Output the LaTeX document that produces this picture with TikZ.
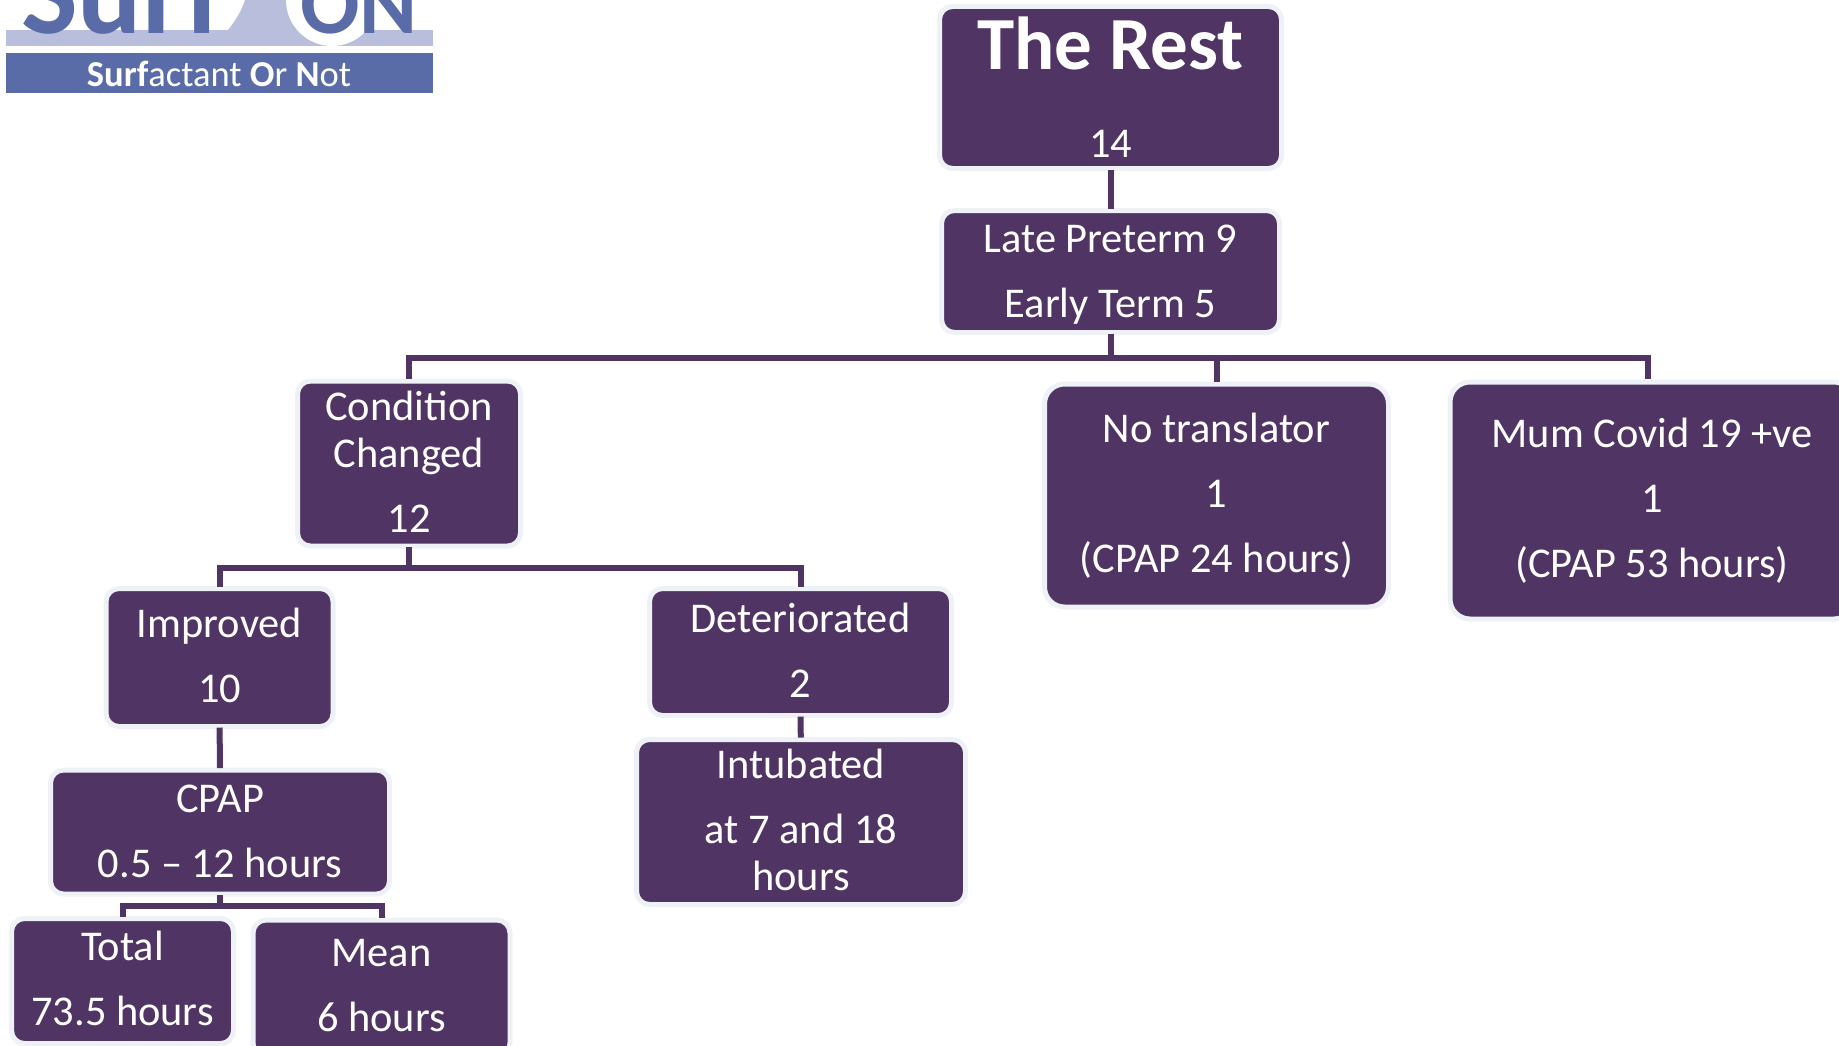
\documentclass[tikz,border=0pt]{standalone}
\usepackage{fontspec}
\setmainfont{Carlito}
\definecolor{plum}{HTML}{503564}
\definecolor{edgegrey}{HTML}{EEF2F6}
\definecolor{logoblue}{HTML}{5A6CA8}
\definecolor{logopale}{HTML}{B9BEDC}
\newcommand{\liftby}[1]{\rule[-#1]{0pt}{#1}}
\tikzset{
  flowbox/.style={shape=rectangle,rounded corners=13pt,draw=edgegrey,fill=plum,line width=5pt,
    text=white,font=\fontsize{42.4pt}{47pt}\selectfont,align=center,inner sep=0pt,outer sep=0pt},
  link/.style={draw=plum,line width=6pt,shorten <=1pt,shorten >=2pt}
}
\begin{document}
\begin{tikzpicture}[x=1pt,y=-1pt]
  \useasboundingbox (0,0) rectangle (1839,1046);

  % logo
  \begin{scope}
    \clip (6,0) rectangle (433,93);
    \fill [logopale] (6,0) rectangle (433,46);
    \fill [white] (6,0) rectangle (433,30);
    \fill [logopale] (228,30) .. controls (236,20) and (242,10) .. (245,0) -- (310,0) -- (310,30) -- cycle;
    \fill [white] (332,0) circle (46pt);
    \fill [logoblue] (6,53) rectangle (433,93);
    \node (logotop) at (21,34) [anchor=base west,text=logoblue,font=\fontsize{120pt}{120pt}\selectfont\bfseries,inner sep=0pt] {Surf};
    \node (logoon) at (300,34) [anchor=base west,text=logoblue,font=\fontsize{88pt}{88pt}\selectfont\bfseries,inner sep=0pt] {ON};
    \node (logotext) at (219,74) [text=white,font=\fontsize{36.5pt}{36.5pt}\selectfont,inner sep=0pt] {\textbf{Surf}actant \textbf{O}r \textbf{N}ot};
  \end{scope}

  % boxes
  \node (rest) at (1110.5,87.5) [flowbox,minimum width=342pt,minimum height=162pt]
    {{\fontsize{75pt}{77pt}\selectfont\bfseries The Rest}\\[41pt]14};
  \node (late) at (1110.5,271.5) [flowbox,minimum width=338pt,minimum height=122pt]
    {\rule{0pt}{34pt}Late Preterm 9\\[18pt]Early Term 5};
  \node (cond) at (409,463.5) [flowbox,minimum width=223pt,minimum height=165pt]
    {Condition\\Changed\\[18pt]12\liftby{3pt}};
  \node (trans) at (1216.5,495.5) [flowbox,rounded corners=20pt,minimum width=344pt,minimum height=223pt]
    {No translator\\[18pt]1\\[18pt](CPAP 24 hours)};
  \node (mum) at (1652,500.5) [flowbox,rounded corners=20pt,minimum width=404pt,minimum height=237pt]
    {Mum Covid 19 +ve\hspace{7pt}\\[18pt]1\hspace{7pt}\\[18pt](CPAP 53 hours)};
  \node (impr) at (219.5,657.5) [flowbox,minimum width=227pt,minimum height=138pt]
    {Improved\\[18pt]10\liftby{4pt}};
  \node (det) at (800.5,652) [flowbox,minimum width=302pt,minimum height=127pt]
    {Deteriorated\\[18pt]2\liftby{4pt}};
  \node (intub) at (801,822) [flowbox,minimum width=329pt,minimum height=165pt]
    {Intubated\\[18pt]at 7 and 18\\hours\liftby{4pt}};
  \node (cpap) at (220,832) [flowbox,minimum width=339pt,minimum height=124pt]
    {CPAP\\[18pt]0.5 -- 12 hours\liftby{2pt}};
  \node (total) at (122.5,981) [flowbox,minimum width=222pt,minimum height=125pt]
    {Total\\[18pt]73.5 hours\liftby{6pt}};
  \node (mean) at (381.5,988) [flowbox,minimum width=257pt,minimum height=136pt]
    {Mean\\[18pt]6 hours\liftby{6pt}};

  \coordinate (mumtop) at (1648,381);

  % connectors
  \draw [link] (rest) -- (late);
  \draw [link] (late.south) -- ++(0,25) -| (cond.north);
  \draw [link] (late.south) -- ++(0,25) -| (trans.north);
  \draw [link] (late.south) -- ++(0,25) -| (mumtop);
  \draw [link] (cond.south) -- ++(0,22) -| (impr.north);
  \draw [link] (cond.south) -- ++(0,22) -| (det.north);
  \draw [link] (det) -- (intub);
  \draw [link] (impr) -- (cpap);
  \draw [link] (cpap.south) -- ++(0,12) -| (total.north);
  \draw [link] (cpap.south) -- ++(0,12) -| (mean.north);
\end{tikzpicture}
\end{document}
